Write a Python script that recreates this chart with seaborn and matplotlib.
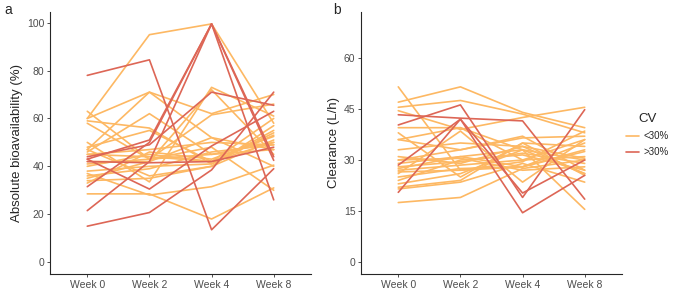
import numpy as np
import pandas as pd
import matplotlib
matplotlib.use("Agg")
import matplotlib.pyplot as plt
import seaborn as sns

weeks = ["Week 0", "Week 2", "Week 4", "Week 8"]

# panel a: absolute bioavailability (%) per subject, one list per visit
ba_cv = [">30%"] * 8 + ["<30%"] * 22
ba_w0 = [78, 15, 21.5, 31.5, 43, 43, 44, 42,
         60, 60, 47, 59, 63, 50, 46, 45, 40, 38, 36, 34, 28.5, 37, 42, 45, 48, 33, 58, 47, 35, 41]
ba_w2 = [84.5, 20.7, 42, 50, 30.5, 51, 49, 41.5,
         95, 71, 71, 56, 43, 33.5, 62, 44, 45, 40, 39, 35, 28.5, 28, 42, 47, 55, 46, 43, 36, 42, 43]
ba_w4 = [13.5, 38.5, 99.5, 99.5, 48.5, 99.5, 71, 42,
         99.5, 62, 52, 41, 61.5, 73, 45, 42, 42, 41, 46, 40, 18, 31.5, 72, 50, 42, 43, 48, 40, 52, 45]
ba_w8 = [39, 71, 44, 26, 63, 42.5, 65.5, 48,
         58, 70, 47, 55, 66, 61, 50, 53, 50, 54, 49, 51, 31, 40.5, 45, 49, 60, 52.5, 30, 57, 40, 47]

# panel b: clearance (L/h)
cl_cv = [">30%"] * 4 + ["<30%"] * 24
cl_w0 = [43.3, 40.3, 28.5, 20.5,
         51.5, 47, 45.5, 44.5, 39.5, 38, 36, 31, 30, 29, 28, 27, 26, 25, 24, 23, 22, 21.5, 17.5, 30, 33, 27.5, 26.5, 36]
cl_w2 = [42.3, 46.2, 42, 42,
         27, 51.5, 47.5, 39, 39.5, 25, 33, 29, 30.5, 31, 29.5, 28.5, 38.5, 27.5, 30, 26, 24, 23.5, 19, 33, 35, 31, 27, 39.5]
cl_w4 = [41.5, 19, 20.3, 14.5,
         28, 44, 43.5, 42.5, 30, 35, 36.5, 34, 27, 33, 32, 30, 23.5, 28, 31.5, 33, 35, 29, 27.5, 37, 34, 28, 29.5, 33]
cl_w8 = [18.5, 44.8, 30, 25.5,
         33, 39.5, 38, 45.5, 36, 34, 37, 26, 28, 15.5, 29, 31, 36, 35, 27, 30, 25.5, 23.5, 30, 27, 30.5, 32.5, 38.5, 26]


def long_table(cv, cols):
    rows = []
    for s, c in enumerate(cv):
        for i, col in enumerate(cols):
            rows.append({"subject": s, "week": i, "value": col[s], "CV": c})
    return pd.DataFrame(rows)


df_a = long_table(ba_cv, [ba_w0, ba_w2, ba_w4, ba_w8])
df_b = long_table(cl_cv, [cl_w0, cl_w2, cl_w4, cl_w8])

sns.set_theme(style="ticks")
plt.rcParams["font.family"] = ["Liberation Sans", "DejaVu Sans"]
pal = {"<30%": "#FDB863", ">30%": "#DD6656"}

fig = plt.figure(figsize=(6.77, 2.89), dpi=100)
ax_a = fig.add_axes([50 / 677, 15 / 289, 261 / 677, 262 / 289])
ax_b = fig.add_axes([361 / 677, 15 / 289, 261 / 677, 262 / 289])

for ax, df in [(ax_a, df_a), (ax_b, df_b)]:
    sns.lineplot(data=df, x="week", y="value", hue="CV", units="subject",
                 estimator=None, palette=pal, hue_order=["<30%", ">30%"],
                 linewidth=1.2, ax=ax, legend=(ax is ax_b))
    ax.set_xlim(-0.6, 3.6)
    ax.set_xticks(range(len(weeks)))
    ax.set_xticklabels(weeks)
    ax.set_xlabel("")
    ax.tick_params(labelsize=7.5, labelcolor="#4D4D4D", color="#333333",
                   length=2.5, width=0.6, pad=1.5)
    for sp in ["left", "bottom"]:
        ax.spines[sp].set_linewidth(0.8)
    sns.despine(ax=ax)

ax_a.set_ylim(-4.975, 104.475)
ax_a.set_yticks([0, 20, 40, 60, 80, 100])
ax_a.set_ylabel("Absolute bioavailability (%)", fontsize=9.5, labelpad=3)

ax_b.set_ylim(-3.5, 73.5)
ax_b.set_yticks([0, 15, 30, 45, 60])
ax_b.set_ylabel("Clearance (L/h)", fontsize=9.5, labelpad=3)

sns.move_legend(ax_b, loc="center left", bbox_to_anchor=(0.99, 0.53),
                frameon=False, title="CV", fontsize=7, title_fontsize=9.5,
                handlelength=1.3, handletextpad=0.5, labelspacing=0.6,
                borderpad=0.2)

fig.text(4 / 677, 1 - 10 / 289, "a", fontsize=10, va="center")
fig.text(333 / 677, 1 - 10 / 289, "b", fontsize=10, va="center")

fig.savefig("out.png", dpi=100)
